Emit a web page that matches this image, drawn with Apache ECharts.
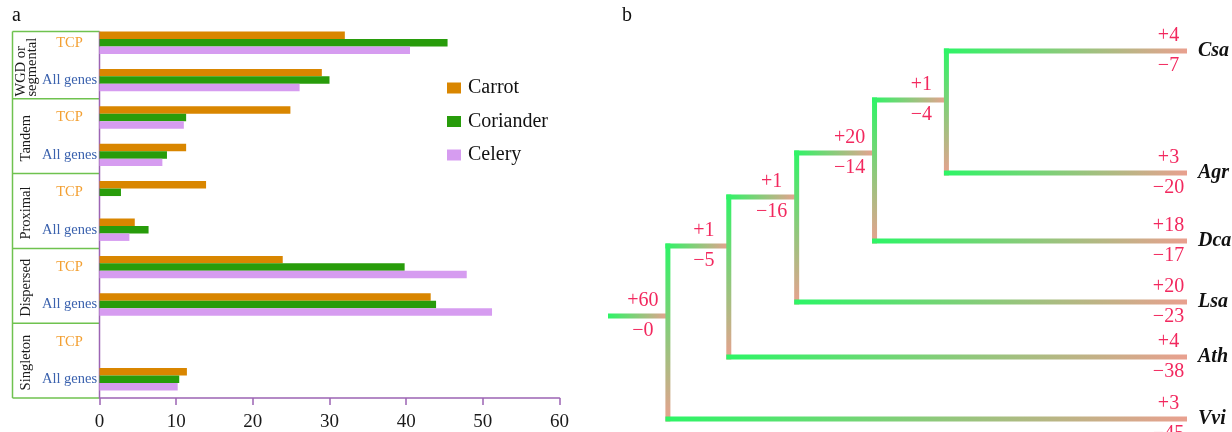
<!DOCTYPE html>
<html>
<head>
<meta charset="utf-8">
<script src="https://cdn.jsdelivr.net/npm/echarts@6/dist/echarts.min.js"></script>
<style>
  html, body { margin: 0; padding: 0; background: #ffffff; }
  #main { width: 1232px; height: 432px; }
</style>
</head>
<body>
<div id="main"></div>
<script>
// ---- Panel a: duplication types, TCP vs all genes ----
const groups = ['WGD or\nsegmental', 'Tandem', 'Proximal', 'Dispersed', 'Singleton'];
const subsets = ['TCP', 'All genes'];
const categories = groups.flatMap(g => subsets.map(s => g.replace('\n', ' ') + ' | ' + s));
const species = ['Carrot', 'Coriander', 'Celery'];
const carrot    = [32.0, 29.0, 24.9, 11.3, 13.9, 4.6, 23.9, 43.2, 0, 11.4];
const coriander = [45.4, 30.0, 11.3,  8.8,  2.8, 6.4, 39.8, 43.9, 0, 10.4];
const celery    = [40.5, 26.1, 11.0,  8.2,  0,   3.9, 47.9, 51.2, 0, 10.2];
const xTicks = [0, 10, 20, 30, 40, 50, 60];

// ---- Panel b: gene family gains/losses on the species tree ----
const nodeNames   = ['Root', 'N1', 'N2', 'N3', 'N4', 'Csa', 'Agr', 'Dca', 'Lsa', 'Ath', 'Vvi'];
const nodeParents = [null, 'Root', 'N1', 'N2', 'N3', 'N4', 'N4', 'N3', 'N2', 'N1', 'Root'];
const nodeDepth   = [6, 12.1, 18.9, 26.7, 33.9, 58, 58, 58, 58, 58, 58];
const nodeOrder   = [26.5, 19.5, 14.6, 10.2, 4.9, 0, 12.2, 19.0, 25.1, 30.6, 36.8];
const gains       = [60, 1, 1, 20, 1, 4, 3, 18, 20, 4, 3];
const losses      = [0, 5, 16, 14, 4, 7, 20, 17, 23, 38, 45];

const SERIF = '"Liberation Serif", "DejaVu Serif", serif';
const AXIS_PURPLE = '#9c64b4';
const BOX_GREEN = '#6fc24f';
const TREE_GREEN = '#2cf566';
const TREE_SALMON = '#e9a08f';
const TREE_TEXT = '#f2285e';

// tree rows: [xStart, xEnd, y, yTopChild, yBottomChild, index]
const treeRows = nodeNames.map((name, i) => {
  const p = nodeParents[i];
  const pi = p === null ? -1 : nodeNames.indexOf(p);
  const xStart = pi < 0 ? 0 : nodeDepth[pi];
  const kids = nodeParents.map((q, k) => (q === name ? k : -1)).filter(k => k >= 0);
  const ys = kids.map(k => nodeOrder[k]);
  const yTop = ys.length ? Math.min(...ys) : nodeOrder[i];
  const yBot = ys.length ? Math.max(...ys) : nodeOrder[i];
  return [xStart, nodeDepth[i], nodeOrder[i], yTop, yBot, i];
});

const LW = 5;
function hGrad() {
  return new echarts.graphic.LinearGradient(0, 0, 1, 0, [
    { offset: 0, color: TREE_GREEN }, { offset: 1, color: TREE_SALMON }
  ]);
}
function vGrad() {
  return new echarts.graphic.LinearGradient(0, 0, 0, 1, [
    { offset: 0, color: TREE_GREEN }, { offset: 1, color: TREE_SALMON }
  ]);
}

function renderBranch(params, api) {
  const i = api.value(5);
  const isLeaf = nodeParents.indexOf(nodeNames[i]) < 0;
  const p0 = api.coord([api.value(0), api.value(2)]);
  const p1 = api.coord([api.value(1), api.value(2)]);
  const startX = i === 0 ? p0[0] : p0[0] - LW / 2;
  const children = [{
    type: 'rect',
    shape: { x: startX, y: p0[1] - LW / 2, width: p1[0] - startX, height: LW },
    style: { fill: hGrad() }
  }];
  if (!isLeaf) {
    const top = api.coord([api.value(1), api.value(3)]);
    const bot = api.coord([api.value(1), api.value(4)]);
    children.push({
      type: 'rect',
      shape: { x: p1[0] - LW / 2, y: top[1] - LW / 2, width: LW, height: bot[1] - top[1] + LW },
      style: { fill: vGrad() }
    });
  }
  const cx = p1[0] - (isLeaf ? 18.5 : 25);
  const labelStyle = (txt, y) => ({
    type: 'text',
    style: {
      text: txt, x: cx, y: y,
      fill: TREE_TEXT, font: '20px ' + SERIF,
      align: 'center', verticalAlign: 'middle',
      textAlign: 'center', textVerticalAlign: 'middle'
    }
  });
  children.push(labelStyle('+' + gains[i], p1[1] - 15));
  children.push(labelStyle('\u2212' + losses[i], p1[1] + 15));
  if (isLeaf) {
    children.push({
      type: 'text',
      style: {
        text: nodeNames[i], x: p1[0] + 11, y: p1[1],
        fill: '#111111', font: 'italic bold 20px ' + SERIF,
        align: 'left', verticalAlign: 'middle',
        textAlign: 'left', textVerticalAlign: 'middle'
      }
    });
  }
  return { type: 'group', children: children };
}

const chart = echarts.init(document.getElementById('main'), null, { renderer: 'canvas' });

const barSeries = [carrot, coriander, celery].map((vals, k) => ({
  name: species[k],
  type: 'bar',
  xAxisIndex: 0,
  yAxisIndex: 0,
  data: vals,
  barGap: '0%',
  barCategoryGap: '40%',
  itemStyle: { color: ['#d98600', '#289c0b', '#d69cf0'][k] }
}));

const option = {
  animation: false,
  backgroundColor: '#ffffff',
  textStyle: { fontFamily: SERIF },
  grid: [
    { left: 99.5, top: 24, width: 460, height: 374 },
    { left: 608, top: 51, right: 45, height: 368 }
  ],
  legend: {
    data: species,
    orient: 'vertical',
    left: 447,
    top: 78,
    padding: 0,
    itemWidth: 14,
    itemHeight: 11,
    itemGap: 13.5,
    icon: 'rect',
    textStyle: { fontFamily: SERIF, fontSize: 20, color: '#111', lineHeight: 20, padding: [0, 0, 0, 2] }
  },
  xAxis: [
    {
      gridIndex: 0, type: 'value', min: xTicks[0], max: xTicks[xTicks.length - 1], interval: 10,
      axisLine: { show: true, lineStyle: { color: AXIS_PURPLE, width: 1.5 } },
      axisTick: { show: true, length: 7, lineStyle: { color: AXIS_PURPLE, width: 1.5 } },
      axisLabel: { color: '#1a1a1a', fontFamily: SERIF, fontSize: 19, margin: 15 },
      splitLine: { show: false }
    },
    { gridIndex: 1, type: 'value', min: 0, max: 58, show: false }
  ],
  yAxis: [
    {
      gridIndex: 0, type: 'category', data: categories, inverse: true,
      axisLine: { show: false },
      axisTick: { show: false },
      splitLine: { show: false },
      axisLabel: {
        margin: 30, align: 'center', fontFamily: SERIF, fontSize: 14.5,
        formatter: v => {
          const s = v.split(' | ')[1];
          return s === 'TCP' ? '{t|' + s + '}' : '{g|' + s + '}';
        },
        rich: {
          t: { color: '#f3a033', fontFamily: SERIF, fontSize: 14.5 },
          g: { color: '#3b62ae', fontFamily: SERIF, fontSize: 14.5 }
        }
      }
    },
    { gridIndex: 1, type: 'value', min: 0, max: 36.8, inverse: true, show: false }
  ],
  series: barSeries.concat([{
    type: 'custom',
    xAxisIndex: 1,
    yAxisIndex: 1,
    renderItem: renderBranch,
    data: treeRows,
    encode: { x: [0, 1], y: [2, 3, 4] },
    clip: false,
    silent: true
  }])
};

chart.setOption(option);

// Group frame on the left of panel a, placed from the category axis scale
const yPix = i => chart.convertToPixel({ yAxisIndex: 0 }, categories[i]);
const x0 = chart.convertToPixel({ xAxisIndex: 0 }, 0);
const band = yPix(1) - yPix(0);
const barW = band * 0.6 / 3;
const boxTop = yPix(0) - 1.5 * barW;
const boxBottom = yPix(categories.length - 1) + band / 2;
const boxLeft = 12.5;
const bounds = [boxTop];
for (let k = 1; k < groups.length; k++) bounds.push((yPix(2 * k - 1) + yPix(2 * k)) / 2);
bounds.push(boxBottom);

const measure = (() => {
  const ctx = document.createElement('canvas').getContext('2d');
  return (t, f) => { ctx.font = f; return ctx.measureText(t).width; };
})();

const groupFont = '14.5px ' + SERIF;
const graphics = [];
bounds.forEach(b => graphics.push({
  type: 'line', shape: { x1: boxLeft, y1: b, x2: x0, y2: b },
  style: { stroke: BOX_GREEN, lineWidth: 1.5 }, silent: true
}));
graphics.push({
  type: 'line', shape: { x1: boxLeft, y1: boxTop, x2: boxLeft, y2: boxBottom },
  style: { stroke: BOX_GREEN, lineWidth: 1.5 }, silent: true
});
graphics.push({
  type: 'line', shape: { x1: x0, y1: boxTop, x2: x0, y2: boxBottom },
  style: { stroke: AXIS_PURPLE, lineWidth: 1.5 }, silent: true
});
groups.forEach((g, k) => {
  const cy = (bounds[k] + bounds[k + 1]) / 2 + 2;
  const lines = g.split('\n');
  const w = Math.max(...lines.map(l => measure(l, groupFont)));
  graphics.push({
    type: 'text',
    x: 26.5, y: cy + w / 2,
    rotation: Math.PI / 2,
    silent: true,
    style: {
      text: g, font: groupFont, fill: '#1a1a1a',
      align: 'left', verticalAlign: 'middle',
      textAlign: 'left', textVerticalAlign: 'middle',
      lineHeight: 11
    }
  });
});
// panel letters
graphics.push({
  type: 'text', x: 12, y: 26, silent: true,
  style: { text: 'a', font: '20px ' + SERIF, fill: '#111', verticalAlign: 'bottom', textVerticalAlign: 'bottom' }
});
graphics.push({
  type: 'text', x: 622, y: 26, silent: true,
  style: { text: 'b', font: '20px ' + SERIF, fill: '#111', verticalAlign: 'bottom', textVerticalAlign: 'bottom' }
});

chart.setOption({ graphic: graphics });
</script>
</body>
</html>
